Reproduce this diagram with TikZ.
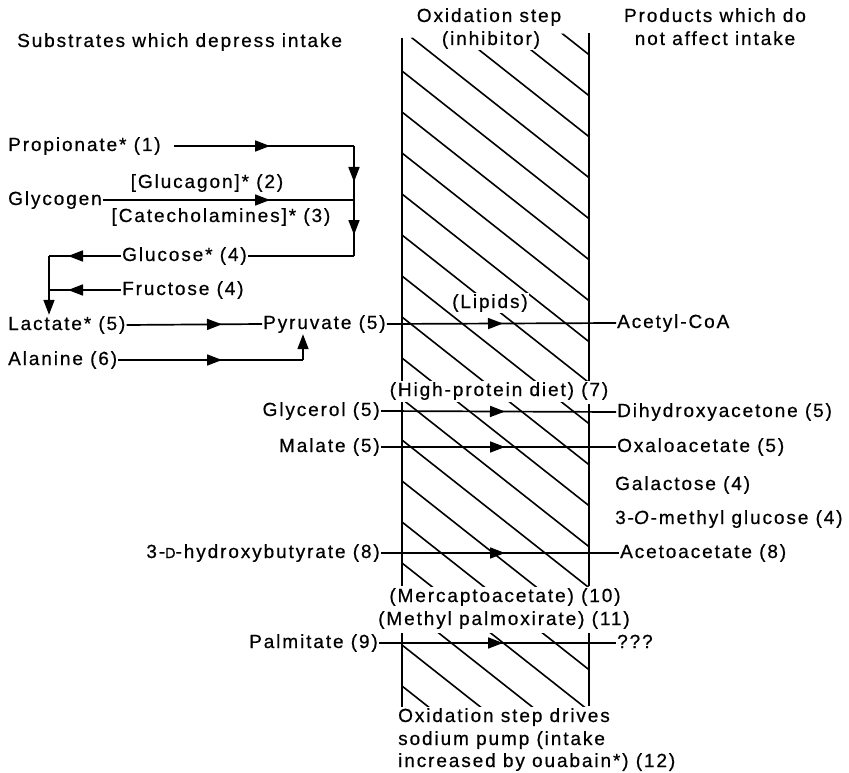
\documentclass[tikz,border=0pt]{standalone}
\usepackage{fontspec}
\setmainfont{Liberation Sans}[LetterSpace=10,FakeBold=0.6]
\usetikzlibrary{arrows.meta,decorations.markings}
\tikzset{
 txt/.style={inner sep=1pt, font=\fontsize{19}{23}\selectfont, text height=14pt, text depth=4pt},
 wtxt/.style={txt, fill=white},
 ln/.style={line width=1.7pt},
 hatchln/.style={line width=1.6pt},
 arrtip/.tip={Triangle[length=15pt,width=11pt]},
 midarr/.style={postaction={decorate}, decoration={markings, mark=at position #1 with {\arrow{arrtip}}}},
 endarr/.style={-arrtip},
}
\begin{document}
\begin{tikzpicture}[x=1pt,y=-1pt]
\useasboundingbox (0,0) rectangle (849,773);
% hatching of the oxidation band
\begin{scope}
\clip (402,38) -- (589,33) -- (589,381) -- (402,381) -- cycle;
\foreach \c in {-93,-52,...,686} \draw[hatchln] (402,\c) -- (589,\c+147.7);
\end{scope}
\begin{scope}
\clip (402,402) rectangle (589,586);
\foreach \c in {-93,-52,...,686} \draw[hatchln] (402,\c) -- (589,\c+147.7);
\end{scope}
\begin{scope}
\clip (402,633) rectangle (589,706);
\foreach \c in {-93,-52,...,686} \draw[hatchln] (402,\c) -- (589,\c+147.7);
\end{scope}
\draw[ln] (402,38) -- (402,381); \draw[ln] (589,33) -- (589,381);
\draw[ln] (402,402) -- (402,586); \draw[ln] (589,404) -- (589,586);
\draw[ln] (402,633) -- (402,707); \draw[ln] (589,633) -- (589,706);
% headers
\node[txt,anchor=west] (h1) at (16,42) {Substrates which depress intake};
\node[txt] (ox1) at (489,17) {Oxidation step};
\node[wtxt] (ox2) at (491,40) {(inhibitor)};
\node[txt] (pr1) at (715,17) {Products which do};
\node[txt] (pr2) at (715,40) {not affect intake};
% left side
\node[txt,anchor=west] (prop) at (7,146) {Propionate* (1)};
\node[txt,anchor=west] (glyc) at (7,200) {Glycogen};
\node[txt] (gcg) at (207,183) {[Glucagon]* (2)};
\node[txt] (cat) at (221,217) {[Catecholamines]* (3)};
\coordinate (j1) at (354,146);
\coordinate (j2) at (354,200);
\coordinate (j3) at (354,256);
\node[txt,anchor=west] (gluc) at (121,256) {Glucose* (4)};
\node[txt,anchor=west] (fruc) at (121,290) {Fructose (4)};
\coordinate (k1) at (49,256);
\coordinate (k2) at (49,290);
\node[txt,anchor=west] (lact) at (7,325) {Lactate* (5)};
\node[txt,anchor=west] (pyr) at (262,324) {Pyruvate (5)};
\node[txt,anchor=west] (alan) at (7,360) {Alanine (6)};
\coordinate (a1) at (303,360);
\node[txt,anchor=east] (glyr) at (381,411) {Glycerol (5)};
\node[txt,anchor=east] (mal) at (381,447) {Malate (5)};
\node[txt,anchor=east] (hb) at (381,553) {3-{\fontsize{14.5}{14.5}\selectfont D}-hydroxybutyrate (8)};
\node[txt,anchor=east] (palm) at (379,643) {Palmitate (9)};
% band labels
\node[wtxt] (lip) at (490,303) {(Lipids)};
\node[wtxt] (hp) at (499,391) {(High-protein diet) (7)};
\node[wtxt] (merc) at (505,597) {(Mercaptoacetate) (10)};
\node[wtxt] (mp) at (504,620) {(Methyl palmoxirate) (11)};
\node[txt,anchor=west] (b1) at (397,717) {Oxidation step drives};
\node[txt,anchor=west] (b2) at (397,740) {sodium pump (intake};
\node[txt,anchor=west] (b3) at (397,762) {increased by ouabain*) (12)};
% right side
\node[txt,anchor=west] (acet) at (616,323) {Acetyl-CoA};
\node[txt,anchor=west] (dha) at (616,412) {Dihydroxyacetone (5)};
\node[txt,anchor=west] (oxa) at (616,447) {Oxaloacetate (5)};
\node[txt,anchor=west] (gal) at (614,485) {Galactose (4)};
\node[txt,anchor=west] (omg) at (614,519) {3-\textit{O}-methyl glucose (4)};
\node[txt,anchor=west] (aca) at (619,553) {Acetoacetate (8)};
\node[txt,anchor=west] (qqq) at (616,643) {???};
% connectors
\draw[ln,shorten <=12pt,midarr=-84pt] (prop.east) -- (j1);
\draw[ln,midarr=-84pt] (glyc.east) -- (j2);
\draw[ln,postaction={decorate},decoration={markings,
  mark=at position 36pt with {\arrow{arrtip}},
  mark=at position 89pt with {\arrow{arrtip}}}] (j1) -- (j3);
\draw[ln] (j3) -- (gluc.east);
\draw[ln,midarr=-19pt] (gluc.west) -- (k1);
\draw[ln,endarr] (k1) -- (k1 |- lact.north);
\draw[ln,midarr=-19pt] (fruc.west) -- (k2);
\draw[ln,midarr=-40pt] (lact.east) -- (pyr.west);
\draw[ln,midarr=-81pt] (alan.east) -- (a1);
\draw[ln,endarr] (a1) -- (a1 |- pyr.south);
\draw[ln,midarr=-113pt] (pyr.east) -- (acet.west);
\draw[ln,midarr=-111pt] (glyr.east) -- (dha.west);
\draw[ln,midarr=-111pt] (mal.east) -- (oxa.west);
\draw[ln,midarr=-114pt] (hb.east) -- (aca.west);
\draw[ln,midarr=-113pt] (palm.east) -- (qqq.west);
\end{tikzpicture}
\end{document}
